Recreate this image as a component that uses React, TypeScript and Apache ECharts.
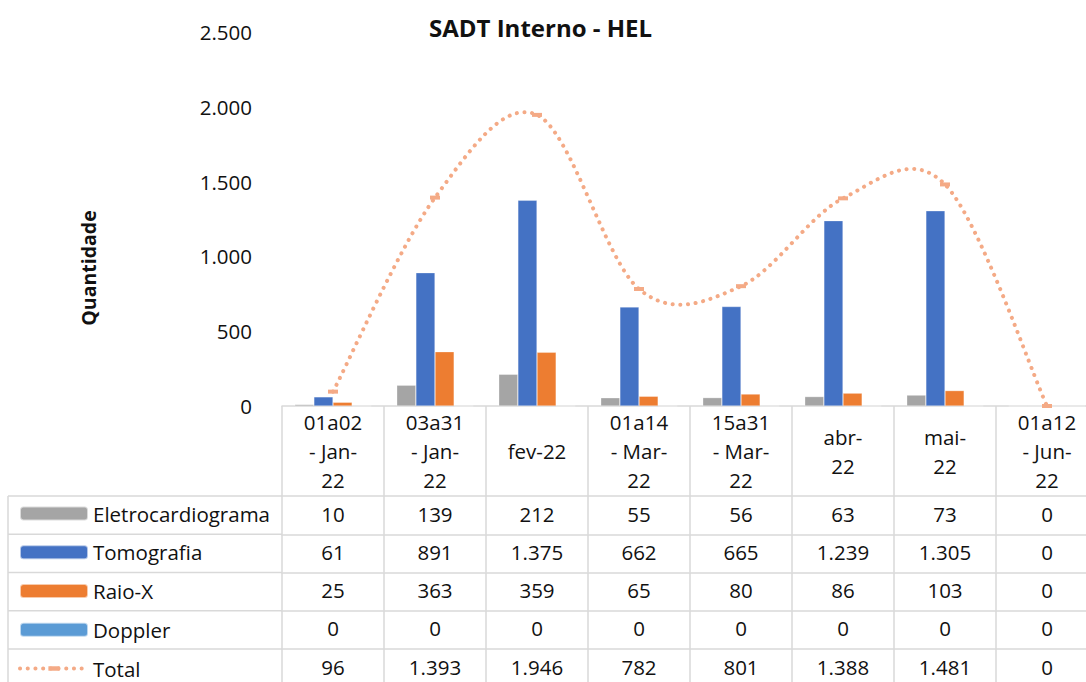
import React, { useEffect, useRef } from "react";
import * as echarts from "echarts";

const categories = [
  "01a02\n- Jan-\n22",
  "03a31\n- Jan-\n22",
  "fev-22",
  "01a14\n- Mar-\n22",
  "15a31\n- Mar-\n22",
  "abr-\n22",
  "mai-\n22",
  "01a12\n- Jun-\n22",
];
const eletro = [10, 139, 212, 55, 56, 63, 73, 0];
const tomografia = [61, 891, 1375, 662, 665, 1239, 1305, 0];
const raioX = [25, 363, 359, 65, 80, 86, 103, 0];
const doppler = [0, 0, 0, 0, 0, 0, 0, 0];
const total = [96, 1393, 1946, 782, 801, 1388, 1481, 0];
const seriesNames = ["Eletrocardiograma", "Tomografia", "Raio-X", "Doppler", "Total"];
const colors = ["#A5A5A5", "#4472C4", "#ED7D31", "#5B9BD5", "#F4AA86"];
const yMin = 0;
const yMax = 2500;
const yStep = 500;

const FONT = "'Open Sans', sans-serif";
const FS = 20.5;
const TXT = "#111111";
const BORDER = "#D9D9D9";
const DOTS = [0.1, 7.6];

const fmt = (v: number) => String(v).replace(/\B(?=(\d{3})+(?!\d))/g, ".");

export default function App() {
  const ref = useRef<HTMLDivElement>(null);
  useEffect(() => {
    if (!ref.current) return;
    const chart = echarts.init(ref.current, undefined, { renderer: "svg" });
    const rows = [eletro, tomografia, raioX, doppler, total];
    const H = 720;
    const gridLeft = 282;
    const axisY = 406;
    const headerH = 90;
    const rowH = 38.25;

    const rowAxes = rows.map((vals, i) => ({
      type: "category",
      data: categories,
      position: "bottom",
      offset: headerH + rowH * i,
      axisLine: { show: true, lineStyle: { color: BORDER, width: 1.5 } },
      axisTick: { show: true, length: rowH, lineStyle: { color: BORDER, width: 1.5 } },
      axisLabel: {
        margin: rowH / 2 - 1.5,
        verticalAlign: "middle",
        fontFamily: FONT,
        fontSize: FS,
        color: TXT,
        interval: 0,
        formatter: (_v: string, idx: number) => fmt(vals[idx]),
      },
    }));

    const graphics: any[] = [];
    for (let i = 0; i <= rows.length; i++) {
      const y = axisY + headerH + rowH * i;
      graphics.push({
        type: "line",
        shape: { x1: 8, y1: y, x2: gridLeft, y2: y },
        style: { stroke: BORDER, lineWidth: 1.5 },
      });
    }
    graphics.push({
      type: "line",
      shape: { x1: 8, y1: axisY + headerH, x2: 8, y2: axisY + headerH + rowH * rows.length },
      style: { stroke: BORDER, lineWidth: 1.5 },
    });
    graphics.push({
      type: "text",
      x: 88,
      y: 268,
      rotation: Math.PI / 2,
      style: {
        text: "Quantidade",
        fontFamily: FONT,
        fontSize: 19.5,
        fontWeight: "bold",
        fill: TXT,
        textAlign: "center",
        textVerticalAlign: "middle",
      },
    });

    const barSeries = [eletro, tomografia, raioX, doppler].map((d, i) => ({
      name: seriesNames[i],
      type: "bar",
      data: d,
      barGap: "0%",
      barCategoryGap: "25%",
      itemStyle: { color: colors[i], borderColor: "rgba(255,255,255,0.6)", borderWidth: 0.5 },
    }));

    // square bounding box with a flat dash in its middle
    const markerPath = "path://M0,0M10,10M0,3h10v4h-10z";

    chart.setOption({
      animation: false,
      color: colors,
      title: {
        text: "SADT Interno - HEL",
        left: 424,
        top: 10,
        textStyle: { fontFamily: FONT, fontSize: 24, fontWeight: "bold", color: TXT },
      },
      legend: {
        orient: "vertical",
        left: 18,
        top: 503,
        padding: 0,
        itemWidth: 68,
        itemHeight: 14,
        itemGap: 17.75,
        selectedMode: false,
        data: [
          ...seriesNames.slice(0, 4),
          {
            name: "Total",
            lineStyle: { color: colors[4], width: 4, type: DOTS, cap: "round", opacity: 1 },
          },
        ],
        textStyle: { fontFamily: FONT, fontSize: FS, color: TXT, lineHeight: 20.5 },
      },
      grid: { left: gridLeft, right: 2, top: 32, bottom: H - axisY },
      xAxis: [
        {
          type: "category",
          data: categories,
          position: "bottom",
          axisLine: { show: true, lineStyle: { color: BORDER, width: 1.5 } },
          axisTick: { show: true, length: headerH, lineStyle: { color: BORDER, width: 1.5 } },
          axisLabel: {
            margin: headerH / 2,
            verticalAlign: "middle",
            lineHeight: 29,
            fontFamily: FONT,
            fontSize: FS,
            color: TXT,
            interval: 0,
          },
        },
        ...rowAxes,
      ],
      yAxis: {
        type: "value",
        min: yMin,
        max: yMax,
        interval: yStep,
        axisLine: { show: false },
        axisTick: { show: false },
        splitLine: { show: false },
        axisLabel: {
          margin: 30,
          fontFamily: FONT,
          fontSize: FS,
          color: TXT,
          formatter: (v: number) => fmt(v),
        },
      },
      series: [
        ...barSeries,
        {
          name: "TotalCurve",
          type: "custom",
          data: [0],
          silent: true,
          clip: false,
          z: 4,
          renderItem: (_params: any, api: any) => {
            const pts = total.map((v, i) => api.coord([i, v]));
            const n = pts.length;
            let d = `M${pts[0][0]},${pts[0][1]}`;
            for (let i = 0; i < n - 1; i++) {
              const p0 = pts[Math.max(i - 1, 0)];
              const p1 = pts[i];
              const p2 = pts[i + 1];
              const p3 = pts[Math.min(i + 2, n - 1)];
              const c1x = p1[0] + (p2[0] - p0[0]) / 6;
              const c1y = p1[1] + (p2[1] - p0[1]) / 6;
              const c2x = p2[0] - (p3[0] - p1[0]) / 6;
              const c2y = p2[1] - (p3[1] - p1[1]) / 6;
              d += ` C${c1x},${c1y} ${c2x},${c2y} ${p2[0]},${p2[1]}`;
            }
            return {
              type: "path",
              shape: { pathData: d },
              style: {
                fill: "none",
                stroke: colors[4],
                lineWidth: 4,
                lineDash: DOTS,
                lineCap: "round",
              },
            };
          },
        },
        {
          name: "Total",
          type: "line",
          data: total,
          symbol: markerPath,
          symbolSize: 10,
          itemStyle: { color: colors[4] },
          lineStyle: { color: colors[4], width: 4, type: DOTS, cap: "round", opacity: 0 },
          z: 5,
        },
      ],
      graphic: graphics,
    });
    return () => chart.dispose();
  }, []);
  return (
    <div
      ref={ref}
      style={{ position: "fixed", left: 0, top: 0, width: 1100, height: 720, background: "#fff" }}
    />
  );
}
